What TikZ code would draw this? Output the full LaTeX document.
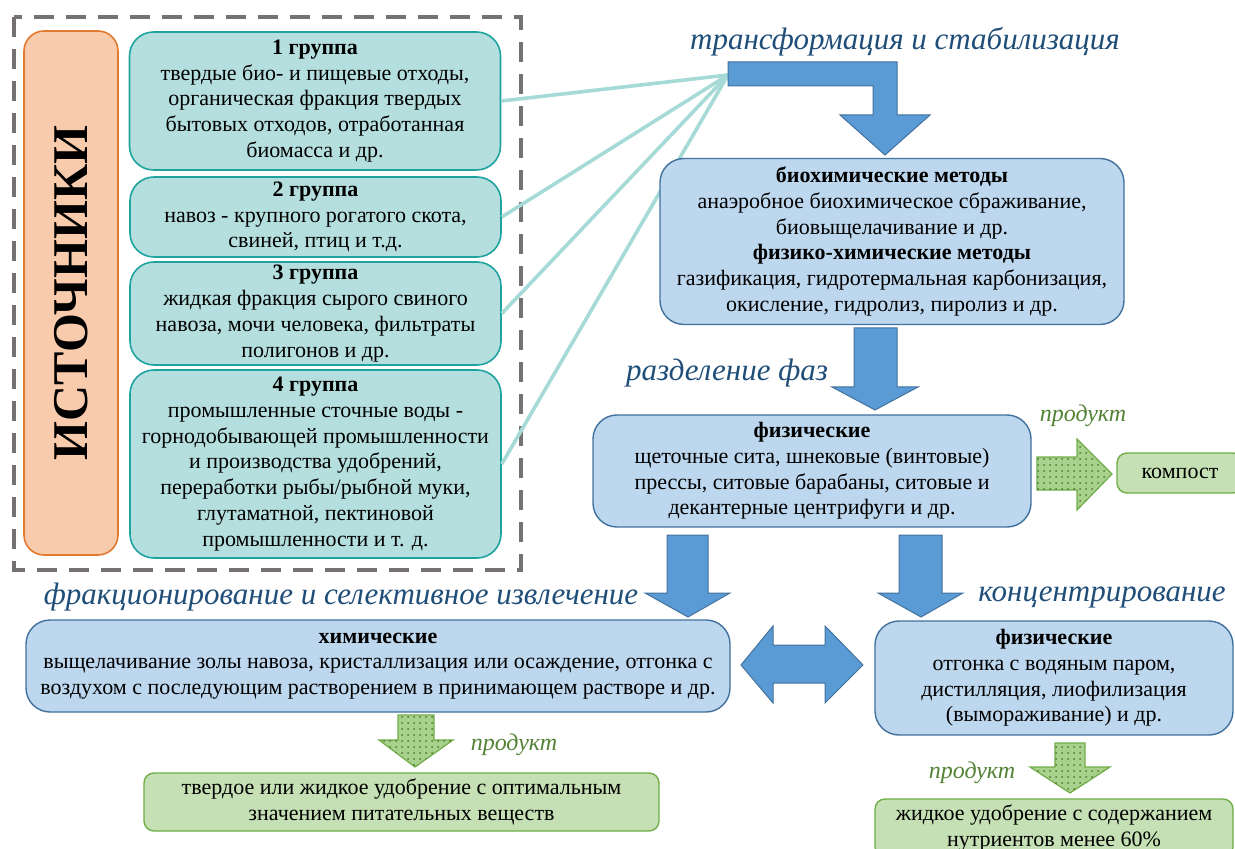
\documentclass[tikz,border=0pt]{standalone}
\usepackage{fontspec}
\setmainfont{Liberation Serif}
\usetikzlibrary{patterns}

\definecolor{boxblue}{HTML}{BDD7EE}
\definecolor{lineblue}{HTML}{41719C}
\definecolor{arrowblue}{HTML}{5B9BD5}
\definecolor{boxteal}{HTML}{B5DFDE}
\definecolor{lineteal}{HTML}{1FA3A0}
\definecolor{rayteal}{HTML}{A6DAD7}
\definecolor{boxorange}{HTML}{F8CBAD}
\definecolor{lineorange}{HTML}{E2792E}
\definecolor{boxgreen}{HTML}{C5E0B4}
\definecolor{linegreen}{HTML}{70AD47}
\definecolor{arrowgreen}{HTML}{A9D18E}
\definecolor{dotgreen}{HTML}{4E7A2E}
\definecolor{labelblue}{HTML}{1F4E79}
\definecolor{labelgreen}{HTML}{548235}
\definecolor{dashgray}{HTML}{767171}

\begin{document}
\begin{tikzpicture}[x=0.5pt, y=-0.5pt, semithick]
            \tikzset{
                txt/.style={font=\fontsize{11}{12.9}\selectfont, align=center},
                group/.style={txt, draw=lineteal, fill=boxteal, rounded corners=12pt, line width=0.8pt, minimum width=185.5pt, inner sep=0pt},
                method/.style={txt, draw=lineblue, fill=boxblue, rounded corners=12pt, line width=0.7pt, inner sep=0pt},
                result/.style={txt, draw=linegreen, fill=boxgreen, rounded corners=5pt, line width=0.7pt, inner sep=0pt},
                stage/.style={font=\fontsize{15.5}{17}\selectfont\itshape, text=labelblue, inner sep=0pt},
                product/.style={font=\fontsize{12}{14}\selectfont\itshape, text=labelgreen, inner sep=0pt},
                ray/.style={draw=rayteal, line width=1.8pt},
                bluearrow/.style={draw=lineblue, fill=arrowblue, line width=0.5pt, line join=miter},
                greenarrow/.style={draw=linegreen, fill=arrowgreen, line width=0.6pt, postaction={pattern=dots, pattern color=dotgreen}}
            };
            \useasboundingbox (0,0) rectangle (1235,849);
            % sources
            \draw[dashgray, line width=2.2pt, dash pattern=on 10pt off 6pt] (14,17) rectangle (521,570);
            \node[draw=lineorange, fill=boxorange, rounded corners=10pt, line width=0.8pt, minimum width=47pt, minimum height=262pt] (sources) at (71,293) {};
            \node[rotate=90, font=\fontsize{25}{27}\selectfont\bfseries] at (sources) {ИСТОЧНИКИ};
            \node[group, minimum height=69pt] (g1) at (315,101) {\textbf{1 группа}\\твердые био- и пищевые отходы,\\органическая фракция твердых\\бытовых отходов, отработанная\\биомасса и др.};
            \node[group, minimum height=40pt] (g2) at (315.5,217) {\textbf{2 группа}\\навоз - крупного рогатого скота,\\свиней, птиц и т.д.};
            \node[group, minimum height=51.5pt] (g3) at (315.5,313.5) {\textbf{3 группа}\\жидкая фракция сырого свиного\\навоза, мочи человека, фильтраты\\полигонов и др.};
            \node[group, minimum height=94pt] (g4) at (315.5,464) {\textbf{4 группа}\\промышленные сточные воды -\\горнодобывающей промышленности\\и производства удобрений,\\переработки рыбы/рыбной муки,\\глутаматной, пектиновой\\промышленности и т. д.};
            \coordinate (hub) at (728,75);
            \foreach \g in {g1, g2, g3, g4}
                \draw[ray] (\g.east) -- (hub);
            % transformation
            \node[stage] (tlabel) at (905,42) {трансформация и стабилизация};
            \draw[bluearrow] (728,62) -- (897,62) -- (897,115) -- (930,115) -- (885,155) -- (840,115) -- (873,115) -- (873,86) -- (728,86) -- cycle;
            \node[method, minimum width=232pt, minimum height=83pt] (bio) at (892,241.5) {\textbf{биохимические методы}\\анаэробное биохимическое сбраживание,\\биовыщелачивание и др.\\\textbf{физико-химические методы}\\газификация, гидротермальная карбонизация,\\окисление, гидролиз, пиролиз и др.};
            % phase separation
            \draw[bluearrow] (854,328) -- (897,328) -- (897,387) -- (918,387) -- (875,410) -- (832,387) -- (854,387) -- cycle;
            \node[stage] (slabel) at (727,373) {разделение фаз};
            \node[method, minimum width=219pt, minimum height=56pt] (phys) at (812,471) {\textbf{физические}\\щеточные сита, шнековые (винтовые)\\прессы, ситовые барабаны, ситовые и\\декантерные центрифуги и др.};
            \node[product] (p1) at (1083,416) {продукт};
            \draw[greenarrow] (1037,457) -- (1077,457) -- (1077,439) -- (1112,474) -- (1077,510) -- (1077,490) -- (1037,490) -- cycle;
            \node[result, minimum width=63pt, minimum height=20pt] (compost) at (1180,473) {компост};
            % fractionation / concentration
            \draw[bluearrow] (667,535) -- (708,535) -- (708,593) -- (730,593) -- (688,617) -- (645,593) -- (667,593) -- cycle;
            \draw[bluearrow] (899,535) -- (942,535) -- (942,593) -- (963,593) -- (921,617) -- (878,593) -- (899,593) -- cycle;
            \node[stage] (flabel) at (341,597) {фракционирование и селективное извлечение};
            \node[stage] (clabel) at (1102,597) {концентрирование};
            \node[method, minimum width=352pt, minimum height=46pt] (chem) at (378,666) {\textbf{химические}\\выщелачивание золы навоза, кристаллизация или осаждение, отгонка с\\воздухом с последующим растворением в принимающем растворе и др.};
            \draw[bluearrow] (741,665) -- (773,626) -- (773,645) -- (825,645) -- (825,626) -- (863,665) -- (825,703) -- (825,683) -- (773,683) -- (773,703) -- cycle;
            \node[method, minimum width=179pt, minimum height=57pt] (phys2) at (1054,678) {\textbf{физические}\\отгонка с водяным паром,\\дистилляция, лиофилизация\\(вымораживание) и др.};
            % products
            \draw[greenarrow] (398,715) -- (434,715) -- (434,740) -- (453,740) -- (415,767) -- (379,740) -- (398,740) -- cycle;
            \node[product] (p2) at (514,745) {продукт};
            \node[result, minimum width=257.5pt, minimum height=29pt] (fert1) at (401.5,802) {твердое или жидкое удобрение с оптимальным\\значением питательных веществ};
            \draw[greenarrow] (1055,743) -- (1085,743) -- (1085,767) -- (1110,767) -- (1070,793) -- (1030,767) -- (1055,767) -- cycle;
            \node[product] (p3) at (972,773) {продукт};
            \node[result, minimum width=179pt, minimum height=29pt] (fert2) at (1054,828) {жидкое удобрение с содержанием\\нутриентов менее 60\%};
        \end{tikzpicture}
\end{document}
